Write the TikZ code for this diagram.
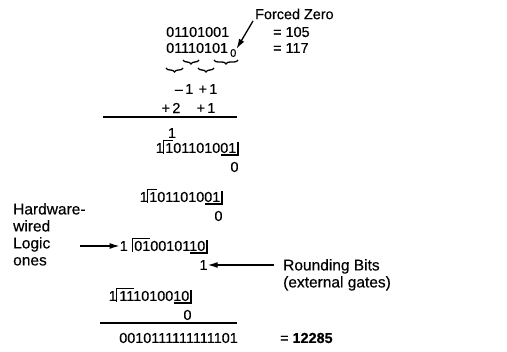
\documentclass[tikz,border=0pt]{standalone}
\usepackage{fontspec}
\setmainfont{Liberation Sans}[FakeBold=0.35]
\usetikzlibrary{arrows.meta,decorations.pathreplacing}
\newcommand\bsrow[7]{%
  \node[txt,anchor=east] (#1d) at (#2-1.5,#3) {#5};
  \node[txt,anchor=east] (#1l) at (#2-1.5-72-0.5-#4,#3) {1};
  \coordinate (#1bt) at (#2-1.5-72-0.8,#3-7.5);
  \coordinate (#1bb) at (#2-1.5-72-0.8,#3+6);
  \draw[bar] (#1bb) -- (#1bt) -- ++(#6*8+1,0);
  \coordinate (#1rt) at (#2,#3-6);
  \coordinate (#1rb) at (#2,#3+7);
  \draw[bar] (#1rt) -- (#1rb) -- ++(-17,0);
  \node[txt] (#1b) at (#2-3.5,#3+19) {#7};
}
\begin{document}
\begin{tikzpicture}[x=1pt,y=-1pt,
  txt/.style={inner sep=0pt, font=\fontsize{14.4}{16}\selectfont},
  lbl/.style={inner sep=0pt, font=\fontsize{15.5}{17}\selectfont},
  small/.style={inner sep=0pt, font=\fontsize{11}{12}\selectfont},
  rule/.style={line width=1.4pt},
  bar/.style={line width=1.2pt},
  brc/.style={decorate, decoration={brace,mirror,amplitude=4pt}, line width=1.3pt},
  ptr/.style={line width=1.3pt, -{Latex[length=10pt,width=6pt]}},
]
\useasboundingbox (0,0) rectangle (507,352);

% header
\node[txt,anchor=west] (fz) at (255,14) {Forced Zero};
\node[txt,anchor=west] (a) at (166,32) {01101001};
\node[txt,anchor=west] (b) at (166,48) {01110101};
\node[small,anchor=west] (sub0) at (230,53) {0};
\node[txt,anchor=west] (av) at (273,32) {= 105};
\node[txt,anchor=west] (bv) at (273,48) {= 117};
\coordinate (fzs) at (253,21);
\draw[ptr] (fzs) -- (sub0.north east);

% braces
\coordinate (br1a) at (166,68); \coordinate (br1b) at (183,68);
\coordinate (br2a) at (183,60); \coordinate (br2b) at (199,60);
\coordinate (br3a) at (198,68); \coordinate (br3b) at (214,68);
\coordinate (br4a) at (214,60); \coordinate (br4b) at (238,60);
\draw[brc] (br1a) -- (br1b);
\draw[brc] (br2a) -- (br2b);
\draw[brc] (br3a) -- (br3b);
\draw[brc] (br4a) -- (br4b);

\node[txt] (m1) at (184,89) {\textendash\,1};
\node[txt] (p1) at (208,89) {+\,1};
\node[txt] (p2) at (171,108) {+\,2};
\node[txt] (p3) at (206,108) {+\,1};

\coordinate (l1a) at (103,117); \coordinate (l1b) at (237,117);
\draw[rule] (l1a) -- (l1b);

% partial products
\node[txt] (c1) at (172,133) {1};
\bsrow{r1}{238}{148}{0}{101101001}{1}{0}
\bsrow{r2}{222}{197}{0}{101101001}{1}{0}
\bsrow{r3}{207}{246}{5}{010010110}{2}{1}
\bsrow{r4}{191}{296}{0}{111010010}{2}{0}

% labels
\node[lbl,anchor=north west,align=left] (hw) at (13,203)
  {\baselineskip=18.7pt Hardware-\\wired\\Logic\\ones};
\coordinate (hwa) at (80,246);
\draw[ptr] (hwa) -- (r3l.west);

\node[lbl,anchor=north west,align=left] (rb) at (283,259)
  {\baselineskip=19pt Rounding Bits\\(external gates)};
\coordinate (rba) at (274,265);
\draw[ptr] (rba) -- (r3b.east);

% result
\coordinate (l2a) at (100,323); \coordinate (l2b) at (237,323);
\draw[rule] (l2a) -- (l2b);
\node[txt,anchor=east] (res) at (238,338) {0010111111111101};
\node[txt,anchor=west] (resv) at (280,338) {= \textbf{12285}};
\end{tikzpicture}
\end{document}
